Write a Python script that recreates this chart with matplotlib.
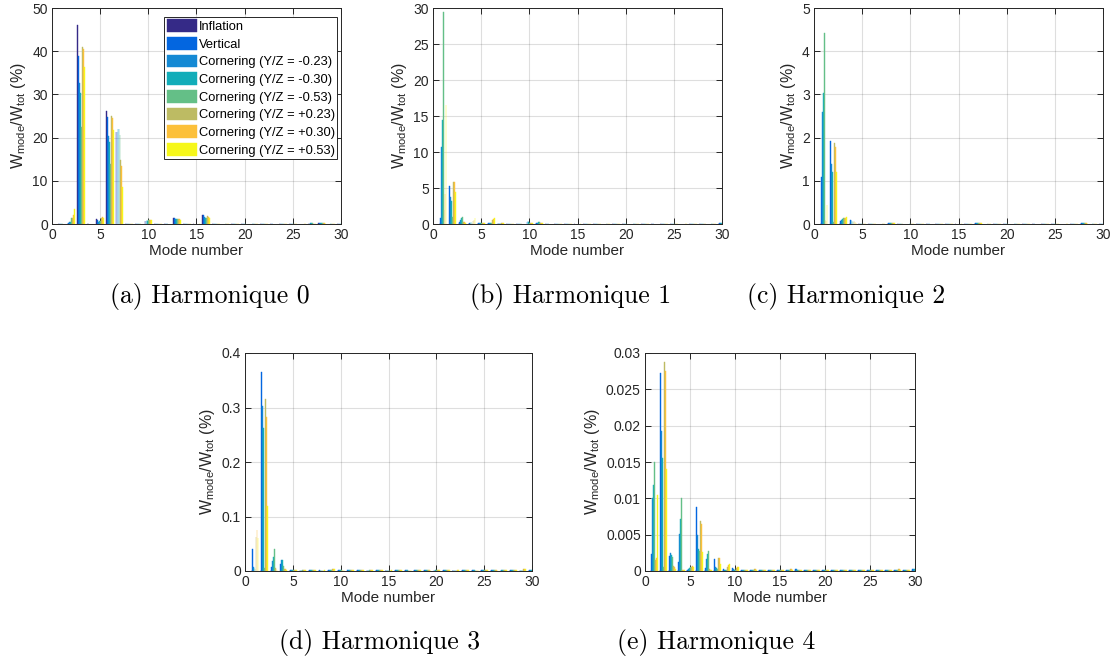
import numpy as np
import matplotlib
matplotlib.use("Agg")
import matplotlib.pyplot as plt
from matplotlib.ticker import FuncFormatter

plt.rcParams['font.family'] = ['Liberation Sans', 'DejaVu Sans']

modes = list(range(1, 31))
series_names = ["Inflation", "Vertical", "Cornering (Y/Z = -0.23)", "Cornering (Y/Z = -0.30)",
                "Cornering (Y/Z = -0.53)", "Cornering (Y/Z = +0.23)", "Cornering (Y/Z = +0.30)",
                "Cornering (Y/Z = +0.53)"]
colors = ["#352a87", "#0366e0", "#1489d4", "#12adb9", "#64bf87", "#bdbb63", "#fcc03a", "#f6f71a"]

# ---- Harmonique 0 ----
h0_infl = [0.05, 0.2, 46.0, 0.1, 1.1, 26.1, 21.3, 0.1, 0.1, 0.8, 0.1, 0.1, 1.3, 0.1, 0.1, 2.1, 0.1, 0.05, 0.05, 0.05, 0.05, 0.05, 0.05, 0.05, 0.05, 0.05, 0.1, 0.2, 0.1, 0.1]
h0_vert = [0.05, 0.3, 39.0, 0.1, 1.0, 24.7, 21.3, 0.1, 0.1, 0.8, 0.1, 0.1, 1.3, 0.1, 0.1, 2.0, 0.1, 0.05, 0.05, 0.05, 0.05, 0.05, 0.05, 0.05, 0.05, 0.05, 0.1, 0.2, 0.1, 0.1]
h0_cm23 = [0.05, 0.4, 32.7, 0.1, 0.5, 20.3, 22.0, 0.1, 0.1, 0.9, 0.1, 0.1, 1.2, 0.1, 0.1, 1.7, 0.1, 0.05, 0.05, 0.05, 0.05, 0.05, 0.05, 0.05, 0.05, 0.05, 0.2, 0.2, 0.1, 0.1]
h0_cm30 = [0.05, 0.5, 30.3, 0.1, 0.6, 19.0, 22.0, 0.1, 0.1, 0.8, 0.1, 0.1, 1.2, 0.1, 0.1, 1.5, 0.1, 0.05, 0.05, 0.05, 0.05, 0.05, 0.05, 0.05, 0.05, 0.05, 0.2, 0.2, 0.1, 0.1]
h0_cm53 = [0.05, 1.5, 22.5, 0.1, 0.8, 14.0, 20.5, 0.1, 0.1, 0.9, 0.1, 0.1, 1.1, 0.1, 0.1, 1.4, 0.1, 0.05, 0.05, 0.05, 0.05, 0.05, 0.05, 0.05, 0.05, 0.05, 0.2, 0.3, 0.1, 0.1]
h0_cp23 = [0.05, 1.5, 41.0, 0.1, 1.5, 25.0, 14.8, 0.1, 0.1, 1.0, 0.1, 0.1, 1.2, 0.1, 0.1, 1.8, 0.1, 0.05, 0.05, 0.05, 0.05, 0.05, 0.05, 0.05, 0.05, 0.05, 0.1, 0.3, 0.1, 0.1]
h0_cp30 = [0.05, 2.0, 40.5, 0.1, 1.7, 24.5, 13.5, 0.1, 0.1, 1.0, 0.1, 0.1, 1.1, 0.1, 0.1, 1.7, 0.1, 0.05, 0.05, 0.05, 0.05, 0.05, 0.05, 0.05, 0.05, 0.05, 0.1, 0.3, 0.1, 0.1]
h0_cp53 = [0.05, 3.4, 36.3, 0.1, 1.3, 21.7, 8.6, 0.1, 0.1, 0.9, 0.1, 0.1, 1.0, 0.1, 0.1, 1.5, 0.1, 0.05, 0.05, 0.05, 0.05, 0.05, 0.05, 0.05, 0.05, 0.05, 0.1, 0.2, 0.1, 0.1]

# ---- Harmonique 1 ----
h1_infl = [0.0] * 30
h1_vert = [0.9, 5.3, 0.3, 0.2, 0.1, 0.1, 0.2, 0.05, 0.05, 0.3, 0.1, 0.05, 0.05, 0.05, 0.05, 0.05, 0.05, 0.05, 0.05, 0.05, 0.05, 0.05, 0.05, 0.05, 0.05, 0.05, 0.05, 0.05, 0.05, 0.1]
h1_cm23 = [10.7, 3.8, 0.6, 0.2, 0.1, 0.1, 0.2, 0.05, 0.05, 0.4, 0.2, 0.05, 0.05, 0.05, 0.05, 0.05, 0.05, 0.05, 0.05, 0.05, 0.05, 0.05, 0.05, 0.05, 0.05, 0.05, 0.05, 0.05, 0.05, 0.1]
h1_cm30 = [14.5, 3.2, 0.8, 0.3, 0.1, 0.1, 0.2, 0.05, 0.05, 0.3, 0.3, 0.05, 0.05, 0.05, 0.05, 0.05, 0.05, 0.05, 0.05, 0.05, 0.05, 0.05, 0.05, 0.05, 0.05, 0.05, 0.05, 0.05, 0.05, 0.1]
h1_cm53 = [29.5, 1.0, 1.0, 0.1, 0.1, 0.1, 0.1, 0.05, 0.05, 0.2, 0.3, 0.05, 0.05, 0.05, 0.05, 0.05, 0.05, 0.05, 0.05, 0.05, 0.05, 0.05, 0.05, 0.05, 0.05, 0.05, 0.05, 0.05, 0.05, 0.1]
h1_cp23 = [2.0, 5.9, 0.3, 0.4, 0.1, 0.5, 0.2, 0.05, 0.05, 0.1, 0.1, 0.05, 0.05, 0.05, 0.05, 0.05, 0.05, 0.05, 0.05, 0.05, 0.05, 0.05, 0.05, 0.05, 0.05, 0.05, 0.05, 0.05, 0.05, 0.05]
h1_cp30 = [4.2, 5.9, 0.3, 0.6, 0.1, 0.7, 0.2, 0.05, 0.05, 0.1, 0.1, 0.05, 0.05, 0.05, 0.05, 0.05, 0.05, 0.05, 0.05, 0.05, 0.05, 0.05, 0.05, 0.05, 0.05, 0.05, 0.05, 0.05, 0.05, 0.05]
h1_cp53 = [16.5, 4.5, 0.2, 0.9, 0.1, 0.8, 0.2, 0.05, 0.05, 0.1, 0.1, 0.05, 0.05, 0.05, 0.05, 0.05, 0.05, 0.05, 0.05, 0.05, 0.05, 0.05, 0.05, 0.05, 0.05, 0.05, 0.05, 0.05, 0.05, 0.05]

# ---- Harmonique 2 ----
h2_infl = [0.0] * 30
h2_vert = [1.08, 1.92, 0.08, 0.10, 0.01, 0.01, 0.01, 0.02, 0.01, 0.01, 0.01, 0.01, 0.01, 0.01, 0.01, 0.01, 0.02, 0.01, 0.01, 0.01, 0.01, 0.01, 0.01, 0.01, 0.01, 0.01, 0.01, 0.02, 0.01, 0.01]
h2_cm23 = [2.60, 1.40, 0.10, 0.10, 0.01, 0.01, 0.01, 0.02, 0.01, 0.01, 0.01, 0.01, 0.01, 0.01, 0.01, 0.01, 0.02, 0.01, 0.01, 0.01, 0.01, 0.01, 0.01, 0.01, 0.01, 0.01, 0.01, 0.02, 0.01, 0.01]
h2_cm30 = [3.03, 1.20, 0.12, 0.08, 0.01, 0.01, 0.01, 0.02, 0.01, 0.01, 0.01, 0.01, 0.01, 0.01, 0.01, 0.01, 0.02, 0.01, 0.01, 0.01, 0.01, 0.01, 0.01, 0.01, 0.01, 0.01, 0.01, 0.02, 0.01, 0.01]
h2_cm53 = [4.43, 0.05, 0.15, 0.05, 0.01, 0.01, 0.01, 0.02, 0.01, 0.01, 0.01, 0.01, 0.01, 0.01, 0.01, 0.01, 0.02, 0.01, 0.01, 0.01, 0.01, 0.01, 0.01, 0.01, 0.01, 0.01, 0.01, 0.02, 0.01, 0.01]
h2_cp23 = [0.10, 1.88, 0.13, 0.06, 0.01, 0.01, 0.01, 0.03, 0.01, 0.01, 0.01, 0.01, 0.01, 0.01, 0.01, 0.01, 0.02, 0.01, 0.01, 0.01, 0.01, 0.01, 0.01, 0.01, 0.01, 0.01, 0.01, 0.02, 0.01, 0.01]
h2_cp30 = [0.08, 1.78, 0.15, 0.04, 0.01, 0.01, 0.01, 0.03, 0.01, 0.01, 0.01, 0.01, 0.01, 0.01, 0.01, 0.01, 0.02, 0.01, 0.01, 0.01, 0.01, 0.01, 0.01, 0.01, 0.01, 0.01, 0.01, 0.02, 0.01, 0.01]
h2_cp53 = [0.45, 1.20, 0.17, 0.03, 0.01, 0.01, 0.01, 0.03, 0.01, 0.01, 0.01, 0.01, 0.01, 0.01, 0.01, 0.01, 0.02, 0.01, 0.01, 0.01, 0.01, 0.01, 0.01, 0.01, 0.01, 0.01, 0.01, 0.02, 0.01, 0.01]

# ---- Harmonique 3 ----
h3_infl = [0.0] * 30
h3_vert = [0.040, 0.365, 0.008, 0.013, 0.002, 0.001, 0.001, 0.001, 0.002, 0.001, 0.001, 0.001, 0.001, 0.001, 0.001, 0.002, 0.001, 0.001, 0.001, 0.001, 0.001, 0.001, 0.001, 0.001, 0.001, 0.001, 0.001, 0.001, 0.002, 0.002]
h3_cm23 = [0.008, 0.302, 0.018, 0.020, 0.002, 0.001, 0.001, 0.001, 0.002, 0.001, 0.001, 0.001, 0.001, 0.001, 0.001, 0.002, 0.001, 0.001, 0.001, 0.001, 0.001, 0.001, 0.001, 0.001, 0.001, 0.001, 0.001, 0.001, 0.002, 0.002]
h3_cm30 = [0.005, 0.263, 0.025, 0.020, 0.002, 0.001, 0.001, 0.001, 0.002, 0.001, 0.001, 0.001, 0.001, 0.001, 0.001, 0.002, 0.001, 0.001, 0.001, 0.001, 0.001, 0.001, 0.001, 0.001, 0.001, 0.001, 0.001, 0.001, 0.002, 0.002]
h3_cm53 = [0.003, 0.005, 0.040, 0.010, 0.002, 0.001, 0.001, 0.001, 0.002, 0.001, 0.001, 0.001, 0.001, 0.001, 0.001, 0.002, 0.001, 0.001, 0.001, 0.001, 0.001, 0.001, 0.001, 0.001, 0.001, 0.001, 0.001, 0.001, 0.002, 0.002]
h3_cp23 = [0.062, 0.315, 0.005, 0.004, 0.002, 0.001, 0.001, 0.001, 0.003, 0.001, 0.002, 0.001, 0.002, 0.001, 0.001, 0.001, 0.001, 0.001, 0.001, 0.001, 0.001, 0.001, 0.001, 0.001, 0.001, 0.001, 0.001, 0.001, 0.003, 0.001]
h3_cp30 = [0.075, 0.283, 0.004, 0.003, 0.002, 0.001, 0.001, 0.001, 0.003, 0.001, 0.002, 0.001, 0.002, 0.001, 0.001, 0.001, 0.001, 0.001, 0.001, 0.001, 0.001, 0.001, 0.001, 0.001, 0.001, 0.001, 0.001, 0.001, 0.003, 0.001]
h3_cp53 = [0.060, 0.120, 0.002, 0.002, 0.002, 0.001, 0.001, 0.001, 0.003, 0.001, 0.002, 0.001, 0.002, 0.001, 0.001, 0.001, 0.001, 0.001, 0.001, 0.001, 0.001, 0.001, 0.001, 0.001, 0.001, 0.001, 0.001, 0.001, 0.003, 0.001]

# ---- Harmonique 4 ----
h4_infl = [0.0] * 30
h4_vert = [0.0023, 0.0272, 0.0021, 0.0013, 0.0002, 0.0088, 0.0004, 0.0016, 0.0003, 0.0004, 0.0001, 0.0002, 0.0001, 0.0001, 0.0001, 0.0001, 0.0003, 0.0001, 0.0001, 0.0001, 0.0001, 0.0001, 0.0001, 0.0001, 0.0001, 0.0001, 0.0001, 0.0001, 0.0001, 0.0003]
h4_cm23 = [0.0100, 0.0193, 0.0025, 0.0051, 0.0003, 0.0050, 0.0017, 0.0005, 0.0002, 0.0003, 0.0001, 0.0002, 0.0001, 0.0001, 0.0001, 0.0001, 0.0003, 0.0001, 0.0001, 0.0001, 0.0001, 0.0001, 0.0001, 0.0001, 0.0001, 0.0001, 0.0001, 0.0001, 0.0001, 0.0003]
h4_cm30 = [0.0118, 0.0155, 0.0022, 0.0071, 0.0004, 0.0030, 0.0024, 0.0004, 0.0002, 0.0002, 0.0001, 0.0002, 0.0001, 0.0001, 0.0001, 0.0001, 0.0002, 0.0001, 0.0001, 0.0001, 0.0001, 0.0001, 0.0001, 0.0001, 0.0001, 0.0001, 0.0001, 0.0001, 0.0001, 0.0003]
h4_cm53 = [0.0150, 0.0005, 0.0019, 0.0100, 0.0005, 0.0028, 0.0027, 0.0003, 0.0002, 0.0001, 0.0001, 0.0001, 0.0001, 0.0001, 0.0001, 0.0001, 0.0002, 0.0001, 0.0001, 0.0001, 0.0001, 0.0001, 0.0001, 0.0001, 0.0001, 0.0001, 0.0001, 0.0001, 0.0001, 0.0002]
h4_cp23 = [0.0015, 0.0288, 0.0007, 0.0002, 0.0006, 0.0069, 0.0003, 0.0018, 0.0006, 0.0004, 0.0001, 0.0003, 0.0002, 0.0001, 0.0001, 0.0003, 0.0001, 0.0001, 0.0001, 0.0001, 0.0001, 0.0001, 0.0001, 0.0001, 0.0001, 0.0001, 0.0001, 0.0003, 0.0001, 0.0001]
h4_cp30 = [0.0018, 0.0275, 0.0006, 0.0002, 0.0007, 0.0064, 0.0002, 0.0018, 0.0008, 0.0005, 0.0001, 0.0003, 0.0002, 0.0001, 0.0001, 0.0003, 0.0001, 0.0001, 0.0001, 0.0001, 0.0001, 0.0001, 0.0001, 0.0001, 0.0001, 0.0001, 0.0001, 0.0003, 0.0001, 0.0001]
h4_cp53 = [0.0104, 0.0140, 0.0003, 0.0001, 0.0005, 0.0026, 0.0001, 0.0009, 0.0010, 0.0006, 0.0001, 0.0002, 0.0001, 0.0001, 0.0001, 0.0002, 0.0001, 0.0001, 0.0001, 0.0001, 0.0001, 0.0001, 0.0001, 0.0001, 0.0001, 0.0001, 0.0001, 0.0002, 0.0001, 0.0001]

harmonics = [
    [h0_infl, h0_vert, h0_cm23, h0_cm30, h0_cm53, h0_cp23, h0_cp30, h0_cp53],
    [h1_infl, h1_vert, h1_cm23, h1_cm30, h1_cm53, h1_cp23, h1_cp30, h1_cp53],
    [h2_infl, h2_vert, h2_cm23, h2_cm30, h2_cm53, h2_cp23, h2_cp30, h2_cp53],
    [h3_infl, h3_vert, h3_cm23, h3_cm30, h3_cm53, h3_cp23, h3_cp30, h3_cp53],
    [h4_infl, h4_vert, h4_cm23, h4_cm30, h4_cm53, h4_cp23, h4_cp30, h4_cp53],
]
ylims = [50, 30, 5, 0.4, 0.03]
yticks = [[0, 10, 20, 30, 40, 50], [0, 5, 10, 15, 20, 25, 30], [0, 1, 2, 3, 4, 5],
          [0, 0.1, 0.2, 0.3, 0.4], [0, 0.005, 0.01, 0.015, 0.02, 0.025, 0.03]]
xticks = [0, 5, 10, 15, 20, 25, 30]
captions = ["(a) Harmonique 0", "(b) Harmonique 1", "(c) Harmonique 2", "(d) Harmonique 3", "(e) Harmonique 4"]

W, H = 1114, 662
fig = plt.figure(figsize=(W / 100, H / 100), dpi=100)

# axes boxes in pixels: left, top, right, bottom
boxes = [(52, 8, 341, 224), (433, 8, 722, 224), (814, 8, 1103, 224),
         (245, 353, 532, 571), (645, 353, 915, 571)]
cap_pos = [(210, 296), (571, 296), (846, 296), (380, 643), (716, 643)]

axcol = "#262626"
x = np.array(modes, dtype=float)
n = 8
for k, (box, data) in enumerate(zip(boxes, harmonics)):
    l, t, r, b = box
    ax = fig.add_axes([l / W, 1 - b / H, (r - l) / W, (b - t) / H])
    for i in range(n):
        off = (i - (n - 1) / 2) * 0.1
        ax.bar(x + off, data[i], width=0.08, color=colors[i], edgecolor=colors[i],
               linewidth=0.3, label=series_names[i], zorder=3)
    ax.set_xlim(0, 30)
    ax.set_ylim(0, ylims[k])
    ax.set_xticks(xticks)
    ax.set_yticks(yticks[k])
    ax.yaxis.set_major_formatter(FuncFormatter(lambda v, p: "%g" % v))
    ax.grid(True, color="#262626", alpha=0.15, linewidth=0.8, zorder=0)
    ax.set_axisbelow(True)
    ax.tick_params(direction="in", top=True, right=True, length=4, width=0.7,
                   labelsize=10, colors=axcol, pad=3)
    for s in ax.spines.values():
        s.set_color(axcol)
        s.set_linewidth(0.7)
    ax.set_xlabel("Mode number", fontsize=11, color=axcol, labelpad=1)
    ax.set_ylabel(r"W$_{\mathregular{mode}}$/W$_{\mathregular{tot}}$ (%)", fontsize=11.5,
                  color=axcol, labelpad=3)
    if k == 0:
        leg = ax.legend(loc="upper right", bbox_to_anchor=(0.987, 0.96), fontsize=9.3,
                        frameon=True, fancybox=False, edgecolor=axcol, framealpha=1,
                        handlelength=2.3, handleheight=1.15, handletextpad=0.15,
                        labelspacing=0.3, borderpad=0.2, borderaxespad=0.0)
        leg.get_frame().set_linewidth(0.7)
    cx, cy = cap_pos[k]
    fig.text(cx / W, 1 - cy / H, captions[k], ha="center", va="center",
             fontsize=18.5, family="cmr10")

fig.savefig("out.png", dpi=100)
